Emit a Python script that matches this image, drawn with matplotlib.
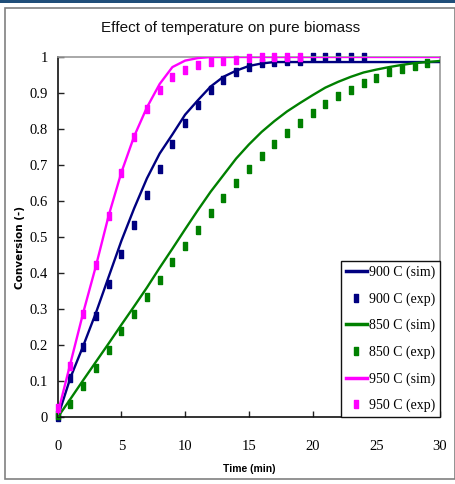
import matplotlib
matplotlib.use("Agg")
import matplotlib.pyplot as plt
from matplotlib.patches import Rectangle
import numpy as np

# ---- data ----
t_sim = list(range(0, 31))
sim_900 = [0.0, 0.11, 0.198, 0.29, 0.39, 0.49, 0.58, 0.663, 0.732, 0.785, 0.84, 0.88,
           0.918, 0.945, 0.962, 0.975, 0.982, 0.986, 0.986, 0.986, 0.986, 0.986, 0.986,
           0.986, 0.986, 0.986, 0.986, 0.986, 0.986, 0.986, 0.986]
sim_850 = [0.0, 0.051, 0.103, 0.154, 0.205, 0.257, 0.308, 0.36, 0.415, 0.468, 0.522, 0.575,
           0.626, 0.672, 0.718, 0.757, 0.792, 0.822, 0.849, 0.872, 0.894, 0.915, 0.931,
           0.945, 0.957, 0.965, 0.972, 0.978, 0.983, 0.986, 0.989]
sim_950 = [0.01, 0.15, 0.29, 0.42, 0.56, 0.68, 0.78, 0.86, 0.925, 0.972, 0.99, 0.997,
           1.0, 1.0, 1.0, 1.0, 1.0, 1.0, 1.0, 1.0, 1.0, 1.0, 1.0, 1.0, 1.0, 1.0, 1.0,
           1.0, 1.0, 1.0, 1.0]

t_exp_900 = list(range(0, 25))
exp_900 = [0.0, 0.11, 0.194, 0.282, 0.369, 0.453, 0.533, 0.616, 0.689, 0.759, 0.818, 0.868,
           0.908, 0.937, 0.958, 0.972, 0.982, 0.986, 0.988, 0.988, 1.0, 1.0, 1.0, 1.0, 1.0]
t_exp_850 = list(range(0, 30))
exp_850 = [0.007, 0.037, 0.087, 0.137, 0.187, 0.239, 0.286, 0.335, 0.381, 0.43, 0.476, 0.519,
           0.566, 0.61, 0.649, 0.69, 0.725, 0.758, 0.788, 0.818, 0.845, 0.869, 0.891, 0.908,
           0.928, 0.942, 0.958, 0.966, 0.974, 0.982]
t_exp_950 = list(range(0, 20))
exp_950 = [0.027, 0.143, 0.286, 0.422, 0.559, 0.677, 0.778, 0.855, 0.908, 0.945, 0.965, 0.979,
           0.986, 0.988, 0.993, 0.996, 1.0, 1.0, 1.0, 1.0]

x_ticks = [0, 5, 10, 15, 20, 25, 30]
y_ticks = [0, 0.1, 0.2, 0.3, 0.4, 0.5, 0.6, 0.7, 0.8, 0.9, 1.0]
y_tick_labels = ["0", "0.1", "0.2", "0.3", "0.4", "0.5", "0.6", "0.7", "0.8", "0.9", "1"]

labels = ["900 C (sim)", "900 C (exp)", "850 C (sim)", "850 C (exp)", "950 C (sim)", "950 C (exp)"]
title = "Effect of temperature on pure biomass"

# ---- figure ----
W, H = 455, 484
fig = plt.figure(figsize=(W / 100, H / 100), dpi=100)

# decorative frame
fig.patches.append(Rectangle((0, 1 - 2.5 / H), 1, 2.5 / H, transform=fig.transFigure,
                             facecolor="#1f4e79", edgecolor="none"))
fig.patches.append(Rectangle((4.5 / W, 1 - 479 / H), (455 - 4.5) / W, (479 - 8) / H,
                             transform=fig.transFigure, facecolor="none",
                             edgecolor="#808080", linewidth=1.2))

ax = fig.add_axes([57.7 / W, 1 - 417.3 / H, (440 - 57.7) / W, (417.3 - 57) / H])

serif = ["Liberation Serif", "DejaVu Serif"]
sans = ["Liberation Sans", "DejaVu Sans"]

rect = [(-2, -3.5), (2, -3.5), (2, 3.5), (-2, 3.5), (-2, -3.5)]
ms = 5.2
lw = 1.7

navy, green, magenta = "#000080", "#008000", "#ff00ff"

ax.plot(t_sim, sim_900, color=navy, lw=lw, label=labels[0], zorder=3)
ax.plot(t_exp_900, exp_900, ls="none", marker=rect, ms=ms, color=navy, mec=navy,
        label=labels[1], clip_on=False, zorder=2)
ax.plot(t_sim, sim_850, color=green, lw=lw, label=labels[2], zorder=3)
ax.plot(t_exp_850, exp_850, ls="none", marker=rect, ms=ms, color=green, mec=green,
        label=labels[3], clip_on=False, zorder=2)
ax.plot(t_sim, sim_950, color=magenta, lw=lw, label=labels[4], zorder=3)
ax.plot(t_exp_950, exp_950, ls="none", marker=rect, ms=ms, color=magenta, mec=magenta,
        label=labels[5], clip_on=False, zorder=4)

ax.set_xlim(0, 30)
ax.set_ylim(0, 1)
ax.set_xticks(x_ticks)
ax.set_xticklabels([str(v) for v in x_ticks], fontfamily=serif, fontsize=10.5)
ax.set_yticks(y_ticks)
ax.set_yticklabels(y_tick_labels, fontfamily=serif, fontsize=10.5)
ax.tick_params(axis="x", direction="in", length=4, width=1, pad=16, color="#222222")
ax.tick_params(axis="y", direction="in", length=4, width=1, pad=7, color="#222222")

for s in ["left", "bottom"]:
    ax.spines[s].set_color("#111111")
    ax.spines[s].set_linewidth(1.2)
for s in ["top", "right"]:
    ax.spines[s].set_color("#999999")
    ax.spines[s].set_linewidth(1.2)

ax.set_xlabel("Time (min)", fontsize=7.5, fontweight="bold", fontfamily=sans)
ax.set_ylabel("Conversion (-)", fontsize=7.5, fontweight="bold", fontfamily=["DejaVu Sans"])
ax.xaxis.set_label_coords(0.5, -0.13)
ax.yaxis.set_label_coords(-0.086, 0.47)

fig.text(231 / W, 1 - 28 / H, title, ha="center", va="center", fontsize=11,
         fontfamily=sans, color="#111111")

leg = ax.legend(loc="lower right", bbox_to_anchor=(1.0, 0.0), frameon=True, fancybox=False,
                borderaxespad=0, prop={"family": serif, "size": 10}, handlelength=1.5,
                handletextpad=0.15, labelspacing=0.95, borderpad=0.35, numpoints=1)
leg.get_frame().set_edgecolor("#111111")
leg.get_frame().set_linewidth(1.0)
leg.get_frame().set_alpha(1)
for h in leg.get_lines():
    if h.get_linestyle() != "None":
        h.set_linewidth(2.5)

fig.savefig("out.png", dpi=100)
